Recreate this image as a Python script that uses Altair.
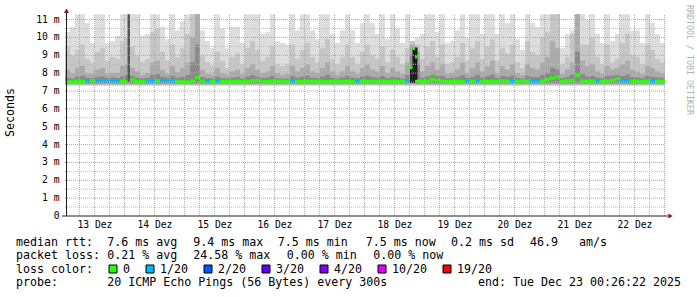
import altair as alt
import pandas as pd

MONO = "DejaVu Sans Mono"
PADL, PADT = 65, 8

END = pd.Timestamp("2025-12-23 00:26:22")
START = END - pd.Timedelta(days=10)
COL = pd.Timedelta(hours=2)
NARROW = pd.Timedelta(hours=1)

# ---- smoke (2-hour columns), values in ms ----
smoke_max = [10.3, 10.6, 11.3, 11.3, 10.8, 9.7, 11.3, 11.3, 9.7, 9.8,
             10.1, 11.3, 11.3, 11.3, 11.3, 10.1, 10.2, 11.3, 11.3, 10.6,
             9.9, 11.3, 10.4, 10.9, 11.3, 11.3, 11.3, 10.4, 9.8, 9.4,
             11.3, 10.5, 9.4, 10.6, 10.6, 9.7, 11.3, 11.3, 11.3, 10.2,
             10.3, 11.3, 9.8, 9.7, 9.6, 11.3, 10.4, 11.3, 11.3, 10.4,
             9.9, 11.3, 11.3, 10.2, 9.7, 10.4, 11.3, 10.4, 9.7, 10.8,
             11.3, 10.8, 10.2, 11.3, 9.9, 11.3, 10.5, 9.7, 11.3, 9.8,
             10.0, 10.2, 11.3, 11.3, 10.3, 11.3, 9.7, 9.8, 10.4, 11.3,
             10.0, 11.3, 11.3, 10.2, 11.3, 11.3, 10.2, 11.3, 10.8, 11.3,
             9.9, 9.3, 11.3, 10.8, 10.6, 11.3, 11.3, 11.3, 11.3, 9.4,
             10.2, 10.4, 11.3, 11.3, 11.0, 11.3, 10.2, 9.7, 11.3, 9.8,
             10.2, 11.3, 11.3, 10.4, 10.4, 9.7, 11.3, 10.8, 10.2, 9.7]

smoke_p2 = [9.5, 9.0, 9.3, 9.6, 8.8, 8.6, 9.2, 9.4, 8.7, 8.9,
            8.8, 9.8, 10.0, 9.5, 9.0, 8.6, 8.8, 10.3, 10.5, 9.2,
            8.7, 9.6, 8.9, 9.4, 10.2, 11.3, 11.3, 9.0, 8.6, 8.4,
            9.2, 8.7, 8.3, 8.9, 9.1, 8.5, 9.4, 9.8, 9.3, 8.7,
            8.9, 9.5, 8.5, 8.4, 8.5, 9.6, 8.8, 9.3, 9.7, 8.9,
            8.6, 9.4, 9.9, 8.8, 8.5, 8.9, 9.6, 8.9, 8.5, 9.2,
            9.6, 9.0, 8.8, 9.5, 8.6, 9.3, 8.9, 8.5, 9.4, 9.8,
            9.6, 8.8, 9.5, 9.8, 8.9, 9.6, 8.5, 8.6, 8.9, 9.7,
            8.7, 9.4, 9.8, 8.8, 9.5, 9.9, 8.7, 9.4, 9.1, 9.6,
            8.6, 8.3, 9.8, 9.2, 9.0, 10.0, 10.3, 11.3, 11.3, 8.5,
            8.9, 10.2, 11.3, 9.6, 9.6, 10.0, 8.9, 8.5, 9.6, 8.6,
            8.8, 9.7, 10.2, 9.0, 8.9, 8.5, 9.6, 9.3, 8.8, 8.6]

smoke_p3 = [8.2, 8.0, 8.3, 8.4, 8.0, 7.95, 8.2, 8.3, 7.95, 8.0,
            8.0, 8.4, 8.5, 8.3, 8.1, 7.9, 8.0, 8.6, 8.7, 8.2,
            7.95, 8.4, 8.05, 8.3, 8.6, 10.0, 11.3, 8.2, 7.95, 7.9,
            8.3, 8.0, 7.9, 8.1, 8.2, 7.95, 8.3, 8.5, 8.2, 8.0,
            8.1, 8.4, 8.0, 7.9, 7.95, 8.4, 8.1, 8.3, 8.5, 8.1,
            8.0, 8.3, 8.6, 8.1, 7.9, 8.1, 8.4, 8.1, 7.95, 8.3,
            8.5, 8.2, 8.1, 8.4, 8.0, 8.3, 8.1, 7.95, 8.6, 9.6,
            9.2, 8.1, 8.4, 8.6, 8.2, 8.5, 7.95, 8.0, 8.2, 8.6,
            8.0, 8.3, 8.6, 8.1, 8.4, 8.7, 8.0, 8.4, 8.2, 8.5,
            8.0, 7.9, 8.5, 8.3, 8.2, 8.6, 8.9, 9.8, 9.4, 7.95,
            8.2, 8.6, 11.3, 8.7, 8.4, 8.5, 8.1, 7.95, 8.4, 8.2,
            8.3, 8.5, 8.7, 8.2, 8.1, 7.95, 8.4, 8.3, 8.1, 8.0]

smoke_p4 = [7.75, 7.7, 7.8, 7.85, 7.75, 7.72, 7.8, 7.82, 7.74, 7.76,
            7.74, 7.82, 7.9, 7.85, 7.76, 7.7, 7.75, 7.9, 7.95, 7.8,
            7.74, 7.85, 7.75, 7.8, 7.9, 8.6, 9.6, 7.78, 7.72, 7.7,
            7.8, 7.72, 7.7, 7.75, 7.78, 7.7, 7.8, 7.88, 7.8, 7.74,
            7.76, 7.85, 7.72, 7.7, 7.7, 7.84, 7.75, 7.8, 7.86, 7.75,
            7.72, 7.8, 7.9, 7.76, 7.7, 7.76, 7.84, 7.76, 7.72, 7.8,
            7.86, 7.78, 7.75, 7.84, 7.72, 7.8, 7.76, 7.7, 7.9, 9.0,
            8.5, 7.76, 7.82, 7.9, 7.85, 7.84, 7.72, 7.74, 7.78, 7.88,
            7.74, 7.8, 7.9, 7.76, 7.84, 7.92, 7.74, 7.84, 7.8, 7.86,
            7.74, 7.7, 7.86, 7.8, 7.78, 7.9, 8.0, 8.3, 8.2, 7.72,
            7.8, 7.92, 9.2, 7.95, 7.82, 7.84, 7.76, 7.72, 7.84, 7.85,
            7.9, 7.84, 7.92, 7.78, 7.76, 7.72, 7.84, 7.8, 7.76, 7.74]

smoke_floor = {"b1": 7.28, "b2": 7.33, "b3": 7.38, "b4": 7.43}

median_ms = [7.52, 7.52, 7.55, 7.53, 7.56, 7.58, 7.57, 7.58, 7.58, 7.57,
             7.57, 7.55, 7.54, 7.63, 7.53, 7.54, 7.56, 7.55, 7.57, 7.60,
             7.60, 7.57, 7.56, 7.52, 7.51, 7.56, 7.76, 7.55, 7.55, 7.54,
             7.55, 7.54, 7.53, 7.54, 7.55, 7.54, 7.53, 7.58, 7.60, 7.55,
             7.54, 7.55, 7.56, 7.55, 7.54, 7.57, 7.55, 7.54, 7.56, 7.55,
             7.54, 7.55, 7.54, 7.55, 7.56, 7.54, 7.55, 7.54, 7.55, 7.55,
             7.55, 7.56, 7.54, 7.55, 7.54, 7.55, 7.54, 7.55, 7.56, None,
             7.55, 7.55, 7.56, 7.64, 7.60, 7.56, 7.55, 7.54, 7.55, 7.54,
             7.55, 7.55, 7.56, 7.55, 7.54, 7.55, 7.54, 7.57, 7.55, 7.55,
             7.55, 7.56, 7.55, 7.56, 7.55, 7.56, 7.65, 7.72, 7.80, 7.54,
             7.57, 7.60, 7.88, 7.56, 7.55, 7.56, 7.55, 7.55, 7.56, 7.60,
             7.68, 7.57, 7.57, 7.55, 7.55, 7.55, 7.55, 7.55, 7.55, 7.55]

loss_count = [0, 0, 0, 0, 1, 0, 1, 1, 1, 1,
              1, 0, 0, 0, 0, 0, 1, 1, 0, 1,
              1, 1, 0, 0, 0, 0, 0, 0, 1, 0,
              1, 0, 0, 0, 0, 0, 0, 0, 0, 0,
              0, 0, 0, 0, 0, 1, 0, 0, 0, 0,
              0, 0, 0, 0, 0, 0, 0, 0, 1, 0,
              0, 0, 0, 0, 0, 0, 0, 0, 1, 0,
              0, 0, 0, 0, 0, 0, 0, 0, 0, 0,
              1, 0, 1, 0, 0, 0, 0, 0, 0, 1,
              0, 0, 0, 1, 1, 0, 0, 0, 0, 0,
              0, 0, 0, 0, 0, 0, 1, 0, 0, 0,
              0, 1, 1, 0, 0, 0, 0, 1, 0, 0]

# ---- narrow (1-hour) features ----
narrow_start = ["2025-12-14 01:26:22", "2025-12-18 18:26:22",
                "2025-12-18 19:26:22", "2025-12-18 20:26:22"]
narrow_lo = [7.50, 7.45, 7.45, 7.45]
narrow_hi = [11.3, 8.38, 9.44, 9.44]
narrow_kind = ["dark", "black", "black", "black"]
narrow_median = [7.58, 8.31, 9.38, 8.91]
narrow_loss = [10, 0, 0, 0]

# ---- axis / legend texts ----
y_values = [0, 1, 2, 3, 4, 5, 6, 7, 8, 9, 10, 11]
y_labels = ["0  ", "1 m", "2 m", "3 m", "4 m", "5 m", "6 m", "7 m", "8 m", "9 m", "10 m", "11 m"]
day_labels = ["13 Dez", "14 Dez", "15 Dez", "16 Dez", "17 Dez",
              "18 Dez", "19 Dez", "20 Dez", "21 Dez", "22 Dez"]
loss_labels = ["0", "1/20", "2/20", "3/20", "4/20", "10/20", "19/20"]
loss_values = [0, 1, 2, 3, 4, 10, 19]

# ---- styles ----
LOSS_COLOR = {0: "#26ff00", 1: "#00b8ff", 2: "#0059ff", 3: "#5e00ff", 4: "#7e00ff", 10: "#dd00ff", 19: "#ff0000"}
SHADE = {"b1": "#dddddd", "b2": "#c6c6c6", "b3": "#ababab", "b4": "#8a8a8a", "dark": "#555555", "black": "#1c1c1c"}

# ---------------------------------------------------------------
xsc = alt.Scale(domain=[alt.DateTime(year=2025, month=12, date=13, hours=0, minutes=26, seconds=22),
                        alt.DateTime(year=2025, month=12, date=23, hours=0, minutes=26, seconds=22)],
                nice=False)
ysc = alt.Scale(domain=[0, 11.65], nice=False, zero=False)

n = len(smoke_max)
t0 = [START + i * COL for i in range(n)]
t1 = [t + COL for t in t0]

layers = []
for band, tops in [("b1", smoke_max), ("b2", smoke_p2), ("b3", smoke_p3), ("b4", smoke_p4)]:
    df = pd.DataFrame({"t0": t0, "t1": t1, "lo": [smoke_floor[band]] * n, "hi": tops})
    layers.append(
        alt.Chart(df).mark_rect(color=SHADE[band]).encode(
            x=alt.X("t0:T", scale=xsc, axis=None),
            x2="t1:T",
            y=alt.Y("lo:Q", scale=ysc, axis=None),
            y2="hi:Q",
        )
    )

nar_t0 = [pd.Timestamp(s) for s in narrow_start]
nar = pd.DataFrame({"t0": nar_t0, "t1": [t + NARROW for t in nar_t0],
                    "lo": narrow_lo, "hi": narrow_hi, "col": [SHADE[k] for k in narrow_kind]})
layers.append(
    alt.Chart(nar).mark_rect().encode(
        x=alt.X("t0:T", scale=xsc, axis=None), x2="t1:T",
        y=alt.Y("lo:Q", scale=ysc, axis=None), y2="hi:Q",
        color=alt.Color("col:N", scale=None),
    )
)

# median line coloured by packet loss
med_rows = []
for i in range(n):
    if median_ms[i] is not None:
        med_rows.append({"t0": t0[i], "t1": t1[i], "m": median_ms[i], "col": LOSS_COLOR[loss_count[i]]})
for i in range(len(narrow_start)):
    med_rows.append({"t0": nar_t0[i], "t1": nar_t0[i] + NARROW, "m": narrow_median[i],
                     "col": LOSS_COLOR[narrow_loss[i]]})
med = pd.DataFrame(med_rows)
layers.append(
    alt.Chart(med).mark_rule(strokeWidth=3).encode(
        x=alt.X("t0:T", scale=xsc, axis=None), x2="t1:T",
        y=alt.Y("m:Q", scale=ysc, axis=None),
        color=alt.Color("col:N", scale=None),
    )
)

# grid (drawn over the graph like rrdtool)
minor_ms = [v + 0.5 for v in range(11)]
major_ms = list(range(1, 12))
major_t = list(pd.date_range("2025-12-14", "2025-12-23", freq="D"))
minor_t = [t for t in pd.date_range("2025-12-13 06:00", "2025-12-22 18:00", freq="6h") if t.hour != 0]

HGRID = dict(color="#bdbdbd", strokeDash=[1, 1], strokeWidth=1)
HMGRID = dict(color="#e58c8c", strokeDash=[1, 1], strokeWidth=1)
VGRID = dict(color="#ababab", strokeDash=[1, 1], strokeWidth=1, xOffset=0.6)
VMGRID = dict(color="#eb9090", strokeDash=[1, 1], strokeWidth=1, xOffset=0.6)

layers.append(alt.Chart(pd.DataFrame({"v": minor_ms})).mark_rule(**HGRID).encode(
    x=alt.value(0), x2=alt.value(600), y=alt.Y("v:Q", scale=ysc, axis=None)))
layers.append(alt.Chart(pd.DataFrame({"t": minor_t})).mark_rule(**VGRID).encode(
    x=alt.X("t:T", scale=xsc, axis=None), y=alt.YDatum(0, axis=None), y2=alt.Y2Datum(11.3)))
layers.append(alt.Chart(pd.DataFrame({"v": major_ms})).mark_rule(**HMGRID).encode(
    x=alt.value(0), x2=alt.value(600), y=alt.Y("v:Q", scale=ysc, axis=None)))
layers.append(alt.Chart(pd.DataFrame({"t": major_t})).mark_rule(**VMGRID).encode(
    x=alt.X("t:T", scale=xsc, axis=None), y=alt.YDatum(0, axis=None), y2=alt.Y2Datum(11.3)))

one = pd.DataFrame({"k": [0]})

# axes lines and arrows
layers.append(alt.Chart(one).mark_rule(color="#1f1f1f", strokeWidth=1).encode(
    x=alt.value(1.5), y=alt.value(3), y2=alt.value(208)))
layers.append(alt.Chart(one).mark_rule(color="#1f1f1f", strokeWidth=1).encode(
    x=alt.value(-3), x2=alt.value(603), y=alt.value(208)))
layers.append(alt.Chart(one).mark_point(shape="triangle-up", filled=True, size=26, color="#801f1f", opacity=1).encode(
    x=alt.value(1.5), y=alt.value(2.8)))
layers.append(alt.Chart(one).mark_point(shape="triangle-right", filled=True, size=26, color="#801f1f", opacity=1).encode(
    x=alt.value(605.5), y=alt.value(208)))

# y tick labels
ylab = pd.DataFrame({"v": y_values, "lab": [s.replace(" ", "\u00a0") for s in y_labels]})
layers.append(alt.Chart(ylab).mark_text(font=MONO, fontSize=9.7, align="right", baseline="middle",
                                        color="#000000").encode(
    x=alt.value(59.5 - PADL), y=alt.Y("v:Q", scale=ysc, axis=None), text="lab:N"))

# day labels
days = pd.DataFrame({"t": list(pd.date_range("2025-12-13 12:00", periods=len(day_labels), freq="D")),
                     "lab": [s.replace(" ", "\u00a0") for s in day_labels]})
layers.append(alt.Chart(days).mark_text(font=MONO, fontSize=9.7, align="center", baseline="alphabetic",
                                        color="#000000", dx=1).encode(
    x=alt.X("t:T", scale=xsc, axis=None), y=alt.value(228.3 - PADT), text="lab:N"))


def label(s, x_img, y_img, size=11.63, align="left", angle=0, color="#000000", baseline="alphabetic"):
    return alt.Chart(one).mark_text(
        text=s.replace(" ", "\u00a0"), font=MONO, fontSize=size, align=align,
        baseline=baseline, angle=angle, color=color
    ).encode(x=alt.value(x_img - PADL), y=alt.value(y_img - PADT))


layers.append(label("Seconds", 10.5, 112.5, align="center", angle=270, baseline="middle"))
layers.append(label("RRDTOOL / TOBI OETIKER", 688.5, 60, size=8.3, align="center", angle=90,
                    baseline="middle", color="#b0b0b0"))

R1, R2, R3, R4 = 245.5, 259.1, 272.7, 286.3
layers += [
    label("median rtt:", 16, R1),
    label("7.6 ms avg", 107.3, R1),
    label("9.4 ms max", 193.3, R1),
    label("7.5 ms min", 277.7, R1),
    label("7.5 ms now", 365.7, R1),
    label("0.2 ms sd", 451, R1),
    label("46.9   am/s", 530, R1),
    label("packet loss:", 16, R2),
    label("0.21 % avg", 107.3, R2),
    label("24.58 % max", 193.3, R2),
    label("0.00 % min", 286.7, R2),
    label("0.00 % now", 373.3, R2),
    label("loss color:", 16, R3),
    label("probe:", 16, R4),
    label("20 ICMP Echo Pings (56 Bytes) every 300s", 107.3, R4),
    label("end: Tue Dec 23 00:26:22 2025", 478, R4),
]

sx = 108.5
for lab, lv in zip(loss_labels, loss_values):
    layers.append(alt.Chart(one).mark_rect(fill=LOSS_COLOR[lv], stroke="#000000", strokeWidth=1).encode(
        x=alt.value(sx + 0.5 - PADL), x2=alt.value(sx + 8.5 - PADL),
        y=alt.value(265 - PADT), y2=alt.value(273 - PADT)))
    layers.append(label(lab, sx + 14.5, R3))
    sx = sx + 14.5 + 7 * len(lab) + 15.5

chart = alt.layer(*layers).properties(
    width=600, height=208,
    padding={"left": PADL, "top": PADT, "right": 32, "bottom": 81},
    autosize=alt.AutoSizeParams(type="none"),
    background="#ffffff",
).configure_view(stroke=None)

chart.save("out.html", embed_options={"renderer": "svg", "actions": False})
